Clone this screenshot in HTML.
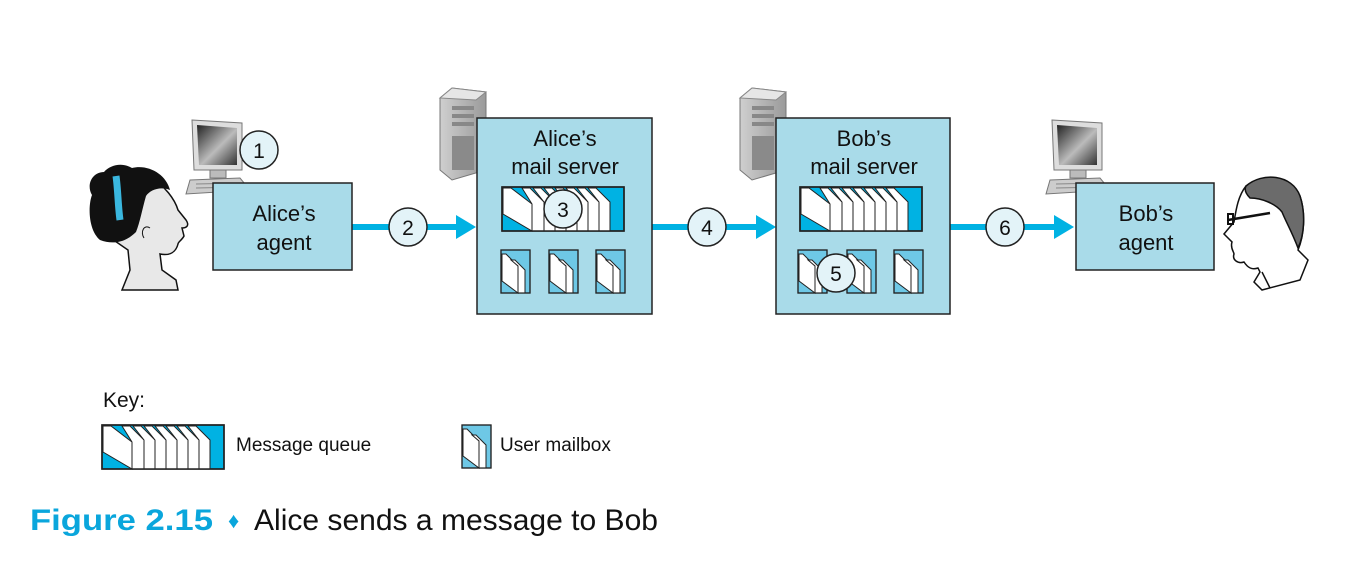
<!DOCTYPE html>
<html><head><meta charset="utf-8"><style>
html,body{margin:0;padding:0;background:#fff;width:1372px;height:572px;overflow:hidden}
svg{display:block}
text{font-family:"Liberation Sans",sans-serif}
</style></head><body>
<svg width="1372" height="572" viewBox="0 0 1372 572" xmlns="http://www.w3.org/2000/svg">
<defs>
<linearGradient id="scr" x1="0" y1="0" x2="1" y2="1"><stop offset="0" stop-color="#222"/><stop offset="0.55" stop-color="#bbb"/><stop offset="1" stop-color="#333"/></linearGradient>
<linearGradient id="srv" x1="0" y1="0" x2="1" y2="0"><stop offset="0" stop-color="#cfcfcf"/><stop offset="1" stop-color="#9a9a9a"/></linearGradient>
<g id="queue">
<rect x="0" y="0" width="122" height="44" fill="#00b2e3" stroke="#222" stroke-width="1.5"/>
<g fill="#fff" stroke="#222" stroke-width="1">
<polygon points="1,1 9,1 30,17 30,44 1,27"/>
<polygon points="20,1 28,1 42,15 42,44 30,44 30,17"/>
<polygon points="31,1 39,1 53,15 53,44 42,44 42,15"/>
<polygon points="42,1 50,1 64,15 64,44 53,44 53,15"/>
<polygon points="53,1 61,1 75,15 75,44 64,44 64,15"/>
<polygon points="64,1 72,1 86,15 86,44 75,44 75,15"/>
<polygon points="75,1 83,1 97,15 97,44 86,44 86,15"/>
<polygon points="86,1 94,1 108,15 108,44 97,44 97,15"/>
</g>
<rect x="0" y="0" width="122" height="44" fill="none" stroke="#222" stroke-width="1.5"/>
</g>
<g id="mbox">
<rect x="0" y="0" width="29" height="43" fill="#6ec8e6" stroke="#222" stroke-width="1.2"/>
<g fill="#fff" stroke="#222" stroke-width="1">
<polygon points="1,4 5,4 17,16 17,43 1,31"/>
<polygon points="10,10 14,10 24,20 24,43 17,43 17,16"/>
</g>
<rect x="0" y="0" width="29" height="43" fill="none" stroke="#222" stroke-width="1.2"/>
</g>
<g id="server">
<polygon points="0,10 12,0 46,4 46,82 12,92 0,82" fill="url(#srv)" stroke="#777"/>
<polygon points="12,0 46,4 36,12 0,10" fill="#e6e6e6" stroke="#888"/>
<rect x="12" y="18" width="22" height="4" fill="#888"/>
<rect x="12" y="26" width="22" height="4" fill="#888"/>
<rect x="12" y="34" width="22" height="4" fill="#888"/>
<rect x="12" y="48" width="22" height="34" fill="#8a8a8a"/>
</g>
<g id="pc">
<polygon points="6,0 56,3 56,50 8,50" fill="#ddd" stroke="#777"/>
<polygon points="11,5 51,8 51,45 13,45" fill="url(#scr)"/>
<rect x="24" y="50" width="16" height="8" fill="#bbb" stroke="#777"/>
<polygon points="4,60 54,58 64,70 0,74" fill="#ccc" stroke="#777"/>
<line x1="10" y1="64" x2="56" y2="63" stroke="#888"/><line x1="10" y1="68" x2="58" y2="67" stroke="#888"/>
</g>
</defs>

<!-- arrows -->
<g stroke="#00b2e3" stroke-width="6">
<line x1="352" y1="227" x2="458" y2="227"/>
<line x1="652" y1="227" x2="758" y2="227"/>
<line x1="950" y1="227" x2="1056" y2="227"/>
</g>
<g fill="#00b2e3">
<polygon points="456,215 476,227 456,239"/>
<polygon points="756,215 776,227 756,239"/>
<polygon points="1054,215 1074,227 1054,239"/>
</g>

<!-- Alice person -->
<g>
<path d="M102,232 C95,215 98,190 110,180 C120,172 138,172 150,178 C165,185 175,200 178,210 L186,220 C190,226 186,228 182,228 L184,236 C182,240 178,242 178,244 C176,252 170,256 160,254 L162,270 L176,280 L178,290 L122,290 L130,270 L128,250 Z" fill="#e8e8e8" stroke="#111" stroke-width="1.5"/>
<path d="M100,240 C88,230 88,205 92,195 C86,185 92,172 104,172 C110,165 122,162 132,168 C148,164 166,174 170,190 C160,186 150,190 146,196 C142,210 140,222 136,232 C128,240 116,246 100,240 Z" fill="#111"/>
<path d="M116,176 C118,190 118,206 120,220" stroke="#3ab7df" stroke-width="7" fill="none"/>
<path d="M150,228 C144,224 140,232 144,238" fill="none" stroke="#111"/>
</g>
<use href="#pc" x="186" y="120"/>
<rect x="213" y="183" width="139" height="87" fill="#a9dbe9" stroke="#222" stroke-width="1.5"/>
<text x="284" y="221" font-size="22" text-anchor="middle" fill="#111">Alice’s</text>
<text x="284" y="250" font-size="22" text-anchor="middle" fill="#111">agent</text>

<!-- Alice server -->
<use href="#server" x="440" y="88"/>
<rect x="477" y="118" width="175" height="196" fill="#a9dbe9" stroke="#222" stroke-width="1.5"/>
<text x="565" y="146" font-size="22" text-anchor="middle" fill="#111">Alice’s</text>
<text x="565" y="174" font-size="22" text-anchor="middle" fill="#111">mail server</text>
<use href="#queue" x="502" y="187"/>
<use href="#mbox" x="501" y="250"/>
<use href="#mbox" x="549" y="250"/>
<use href="#mbox" x="596" y="250"/>

<!-- Bob server -->
<use href="#server" x="740" y="88"/>
<rect x="776" y="118" width="174" height="196" fill="#a9dbe9" stroke="#222" stroke-width="1.5"/>
<text x="864" y="146" font-size="22" text-anchor="middle" fill="#111">Bob’s</text>
<text x="864" y="174" font-size="22" text-anchor="middle" fill="#111">mail server</text>
<use href="#queue" x="800" y="187"/>
<use href="#mbox" x="798" y="250"/>
<use href="#mbox" x="847" y="250"/>
<use href="#mbox" x="894" y="250"/>

<!-- Bob agent -->
<use href="#pc" x="1046" y="120"/>
<rect x="1076" y="183" width="138" height="87" fill="#a9dbe9" stroke="#222" stroke-width="1.5"/>
<text x="1146" y="221" font-size="22" text-anchor="middle" fill="#111">Bob’s</text>
<text x="1146" y="250" font-size="22" text-anchor="middle" fill="#111">agent</text>

<!-- Bob person -->
<g stroke="#111" stroke-width="1.5">
<path d="M1246,186 C1238,196 1236,210 1234,222 L1224,234 L1232,242 C1230,248 1234,252 1234,254 C1232,260 1238,264 1244,262 C1248,268 1252,270 1258,268 L1260,272 L1254,282 L1262,290 L1300,280 L1308,260 L1298,250 C1304,236 1306,214 1300,196 C1292,178 1266,174 1246,186 Z" fill="#fff"/>
<path d="M1246,186 C1262,172 1292,174 1300,196 C1306,214 1304,236 1298,248 C1292,232 1286,222 1282,212 C1276,204 1262,198 1250,198 C1246,194 1244,190 1246,186 Z" fill="#6b6b6b"/>
<path d="M1228,220 L1270,213" stroke-width="2.5"/>
<rect x="1228" y="214" width="5" height="10" fill="none" stroke-width="2"/>
<path d="M1262,272 L1270,288" fill="none"/>
</g>

<!-- number circles -->
<g fill="#e3f3f8" stroke="#222" stroke-width="1.5">
<circle cx="259" cy="150" r="19"/>
<circle cx="408" cy="227" r="19"/>
<circle cx="563" cy="209" r="19"/>
<circle cx="707" cy="227" r="19"/>
<circle cx="836" cy="273" r="19"/>
<circle cx="1005" cy="227" r="19"/>
</g>
<g font-size="21" text-anchor="middle" fill="#111">
<text x="259" y="158">1</text>
<text x="408" y="235">2</text>
<text x="563" y="217">3</text>
<text x="707" y="235">4</text>
<text x="836" y="281">5</text>
<text x="1005" y="235">6</text>
</g>

<!-- key -->
<text x="103" y="407" font-size="21" fill="#111">Key:</text>
<use href="#queue" x="102" y="425"/>
<text x="236" y="451" font-size="19" fill="#111">Message queue</text>
<use href="#mbox" x="462" y="425"/>
<text x="500" y="451" font-size="19" fill="#111">User mailbox</text>

<!-- caption -->
<text x="30" y="530" font-size="30" font-weight="bold" fill="#0aa6dc" textLength="183" lengthAdjust="spacingAndGlyphs">Figure 2.15</text>
<text x="228" y="528" font-size="22" fill="#0aa6dc">♦</text>
<text x="254" y="530" font-size="30" fill="#111" textLength="404" lengthAdjust="spacingAndGlyphs">Alice sends a message to Bob</text>
</svg>
</body></html>
